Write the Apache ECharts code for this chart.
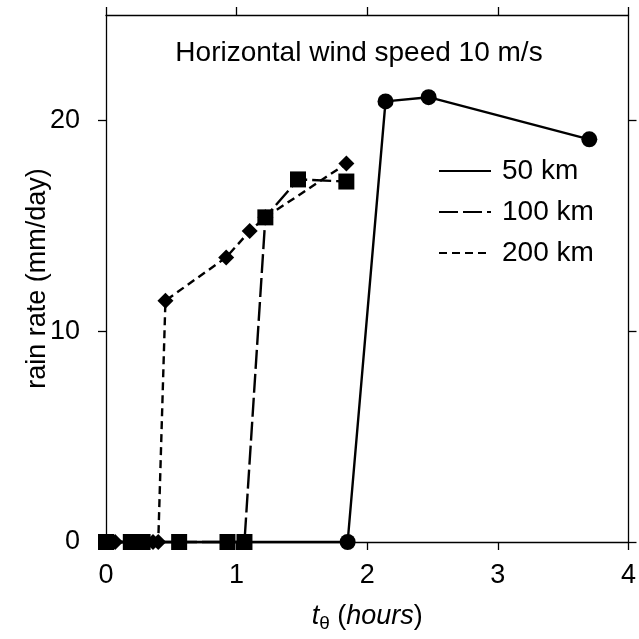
<!DOCTYPE html>
<html>
<head>
<meta charset="utf-8">
<script src="https://cdn.jsdelivr.net/npm/echarts@6/dist/echarts.min.js"></script>
<style>html,body{margin:0;padding:0;background:#fff;overflow:hidden}#c{width:639px;height:639px}</style>
</head>
<body>
<div id="c"></div>
<script>
// Data (t_theta in hours, rain rate in mm/day)
const t50 = [0, 1.85, 2.14, 2.47, 3.70];
const r50 = [0, 0, 20.9, 21.1, 19.1];
const t100 = [0, 0.19, 0.28, 0.56, 0.93, 1.06, 1.22, 1.47, 1.84];
const r100 = [0, 0, 0, 0, 0, 0, 15.4, 17.2, 17.1];
const t200 = [0.07, 0.31, 0.36, 0.40, 0.455, 0.92, 1.10, 1.22, 1.84];
const r200 = [0, 0, 0, 0, 11.45, 13.5, 14.75, 15.4, 17.95];
const seriesNames = ['50 km', '100 km', '200 km'];
const xTicks = [0, 1, 2, 3, 4];
const yTicks = [0, 10, 20];
const titleText = 'Horizontal wind speed 10 m/s';

const zip = (a, b) => a.map((v, i) => [v, b[i]]);
const FONT = 'Liberation Sans';
const fs = 27;

const chart = echarts.init(document.getElementById('c'), null, {renderer: 'canvas', width: 639, height: 639});
const axLine = {show: true, onZero: false, lineStyle: {color: '#000', width: 1.3}};
const tick = {show: true, inside: false, length: 8, lineStyle: {color: '#000', width: 1.3}};
const yTick = Object.assign({}, tick, {customValues: yTicks});

chart.setOption({
  animation: false,
  backgroundColor: '#fff',
  textStyle: {fontFamily: FONT},
  title: {
    text: titleText, left: 354, top: 34, textAlign: 'center',
    textStyle: {fontFamily: FONT, fontSize: 28, fontWeight: 'normal', color: '#000'}
  },
  grid: {left: 106, right: 3, top: 15, bottom: 97, containLabel: false},
  legend: {
    orient: 'vertical', left: 433, top: 152, itemGap: 13,
    itemWidth: 52, itemHeight: 28,
    data: seriesNames,
    itemStyle: {opacity: 0},
    textStyle: {fontFamily: FONT, fontSize: 28, color: '#000', padding: [0, 0, 0, 6]},
    inactiveColor: '#000'
  },
  xAxis: [{
    type: 'value', min: xTicks[0], max: xTicks[xTicks.length - 1], interval: 1,
    position: 'bottom',
    axisLine: axLine, axisTick: tick, splitLine: {show: false},
    axisLabel: {fontFamily: FONT, fontSize: fs, color: '#000', margin: 20,
      alignMinLabel: 'center', alignMaxLabel: 'center', hideOverlap: false},
    name: '{t|t}{s|θ} ({h|hours})', nameLocation: 'middle', nameGap: 58, nameMoveOverlap: false,
    nameTextStyle: {
      fontFamily: FONT, fontSize: fs, color: '#000',
      rich: {
        t: {fontFamily: FONT, fontSize: fs, fontStyle: 'italic', color: '#000'},
        s: {fontFamily: FONT, fontSize: 19, color: '#000', verticalAlign: 'bottom', padding: [14, 0, 0, 0]},
        h: {fontFamily: FONT, fontSize: fs, fontStyle: 'italic', color: '#000'}
      }
    }
  }, {
    type: 'value', min: xTicks[0], max: xTicks[xTicks.length - 1], interval: 1,
    position: 'top',
    axisLine: axLine, axisTick: tick, splitLine: {show: false},
    axisLabel: {show: false}
  }],
  yAxis: [{
    type: 'value', min: 0, max: 25, interval: 10, position: 'left',
    axisLine: axLine, axisTick: yTick, splitLine: {show: false},
    axisLabel: {fontFamily: FONT, fontSize: fs, color: '#000', margin: 26,
      formatter: v => (yTicks.indexOf(v) >= 0 ? String(v) : '')},
    name: 'rain rate (mm/day)', nameLocation: 'middle', nameGap: 55, nameRotate: 90, nameMoveOverlap: false,
    nameTextStyle: {fontFamily: FONT, fontSize: fs, color: '#000'}
  }, {
    type: 'value', min: 0, max: 25, interval: 10, position: 'right',
    axisLine: axLine, axisTick: yTick, splitLine: {show: false},
    axisLabel: {show: false}
  }],
  series: [{
    name: '200 km', type: 'line', data: zip(t200, r200), clip: false,
    symbol: 'diamond', symbolSize: 16,
    itemStyle: {color: '#000'},
    lineStyle: {color: '#000', width: 2.4, type: [8, 5]},
    z: 2
  }, {
    name: '100 km', type: 'line', data: zip(t100, r100), clip: false,
    symbol: 'rect', symbolSize: 16,
    itemStyle: {color: '#000'},
    lineStyle: {color: '#000', width: 2.4, type: [19, 5]},
    z: 3
  }, {
    name: '50 km', type: 'line', data: zip(t50, r50), clip: false,
    symbol: 'circle', symbolSize: 16,
    itemStyle: {color: '#000'},
    lineStyle: {color: '#000', width: 2.4, type: 'solid'},
    z: 4
  }]
});
</script>
</body>
</html>
